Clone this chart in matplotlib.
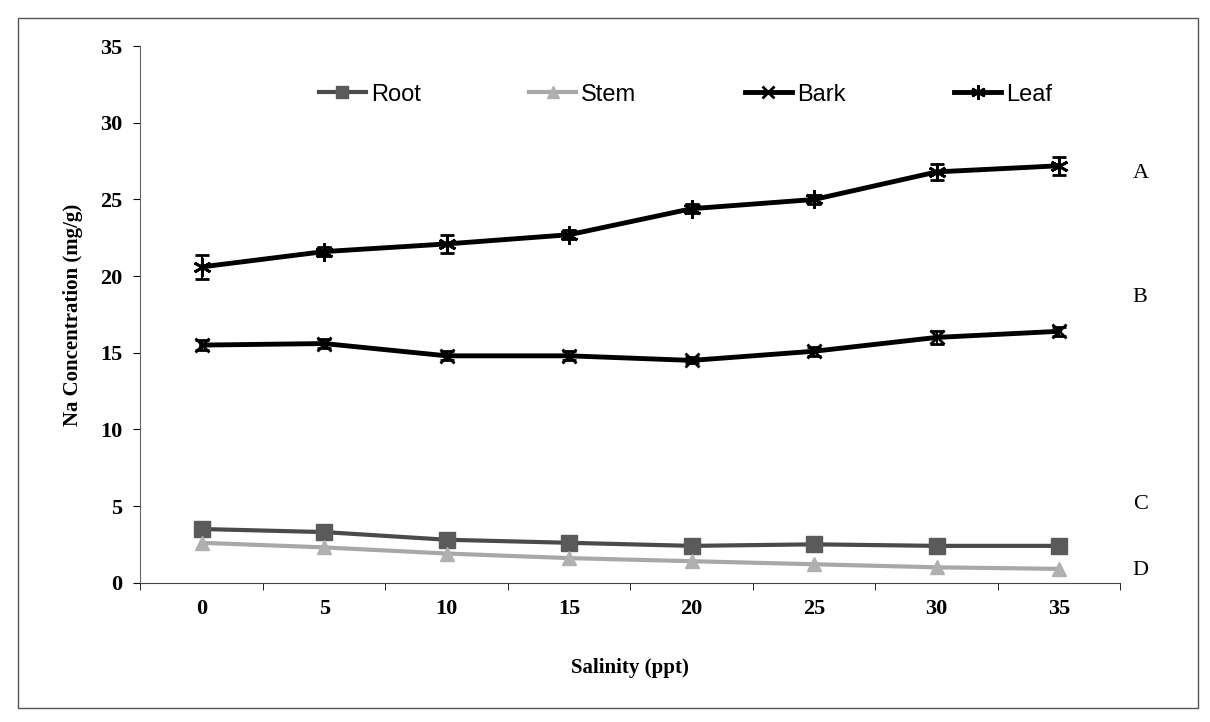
import matplotlib.pyplot as plt
from matplotlib.patches import Rectangle

# Na concentration vs salinity, four plant parts
salinity = ['0', '5', '10', '15', '20', '25', '30', '35']
root = [3.5, 3.3, 2.8, 2.6, 2.4, 2.5, 2.4, 2.4]
stem = [2.6, 2.3, 1.9, 1.6, 1.4, 1.2, 1.0, 0.9]
bark = [15.5, 15.6, 14.8, 14.8, 14.5, 15.1, 16.0, 16.4]
leaf = [20.6, 21.6, 22.1, 22.7, 24.4, 25.0, 26.8, 27.2]
leaf_err = [0.8, 0.3, 0.6, 0.3, 0.3, 0.3, 0.5, 0.6]
bark_err = [0.3, 0.3, 0.3, 0.3, 0.2, 0.3, 0.4, 0.3]
letters = ['A', 'B', 'C', 'D']
letter_y = [26.7, 18.6, 5.1, 0.8]

serif = ['Liberation Serif', 'DejaVu Serif']
sans = ['Liberation Sans', 'DejaVu Sans']

fig = plt.figure(figsize=(12.1, 7.22), dpi=100)
fig.patches.append(Rectangle((0.015, 0.02), 0.975, 0.955, transform=fig.transFigure,
                             fill=False, edgecolor='#555555', linewidth=1.0))
ax = fig.add_axes([0.116, 0.193, 0.81, 0.743])

x = list(range(len(salinity)))
l_root, = ax.plot(x, root, color='#4a4a4a', linewidth=3, marker='s', markersize=11,
                  markerfacecolor='#5a5a5a', markeredgecolor='#5a5a5a', label='Root')
l_stem, = ax.plot(x, stem, color='#a8a8a8', linewidth=3, marker='^', markersize=10,
                  markerfacecolor='#b0b0b0', markeredgecolor='#b0b0b0', label='Stem')
c_bark = ax.errorbar(x, bark, yerr=bark_err, color='black', linewidth=3.5, marker='x',
                     markersize=10, markeredgewidth=2, capsize=5, elinewidth=1.5,
                     label='Bark')
c_leaf = ax.errorbar(x, leaf, yerr=leaf_err, color='black', linewidth=3.5,
                     marker=(6, 2, 0), markersize=13, markeredgewidth=2, capsize=5,
                     elinewidth=1.5, label='Leaf')

for lt, ly in zip(letters, letter_y):
    ax.text(7.6, ly, lt, fontsize=16, family=serif, va='center', ha='left',
            clip_on=False)

ax.set_xlim(-0.5, 7.3)
ax.set_ylim(0, 35)
ax.set_xticks(x)
ax.set_xticklabels(salinity)
ax.set_xticks([i + 0.5 for i in range(-1, 8)], minor=True)
ax.tick_params(axis='x', which='major', length=0, pad=12)
ax.tick_params(axis='x', which='minor', length=5, direction='out')
ax.set_yticks(range(0, 36, 5))
ax.tick_params(axis='y', length=5, direction='out', pad=8)
for lab in ax.get_xticklabels() + ax.get_yticklabels():
    lab.set_fontfamily(serif)
    lab.set_fontsize(16)
    lab.set_fontweight('bold')

for s in ['top', 'right']:
    ax.spines[s].set_visible(False)
ax.spines['left'].set_color('#666666')
ax.spines['bottom'].set_color('#444444')

ax.set_xlabel('Salinity (ppt)', fontsize=15, fontweight='bold', family=serif, labelpad=28)
ax.set_ylabel('Na Concentration (mg/g)', fontsize=15, fontweight='bold', family=serif,
              labelpad=12)

ax.legend(handles=[l_root, l_stem, c_bark[0], c_leaf[0]],
          labels=['Root', 'Stem', 'Bark', 'Leaf'],
          loc='upper center', bbox_to_anchor=(0.556, 0.97), ncol=4, frameon=False,
          columnspacing=4.6, handlelength=2.0, handletextpad=0.2, markerscale=0.8,
          prop={'family': sans, 'size': 17})

fig.savefig('out.png', dpi=100)
